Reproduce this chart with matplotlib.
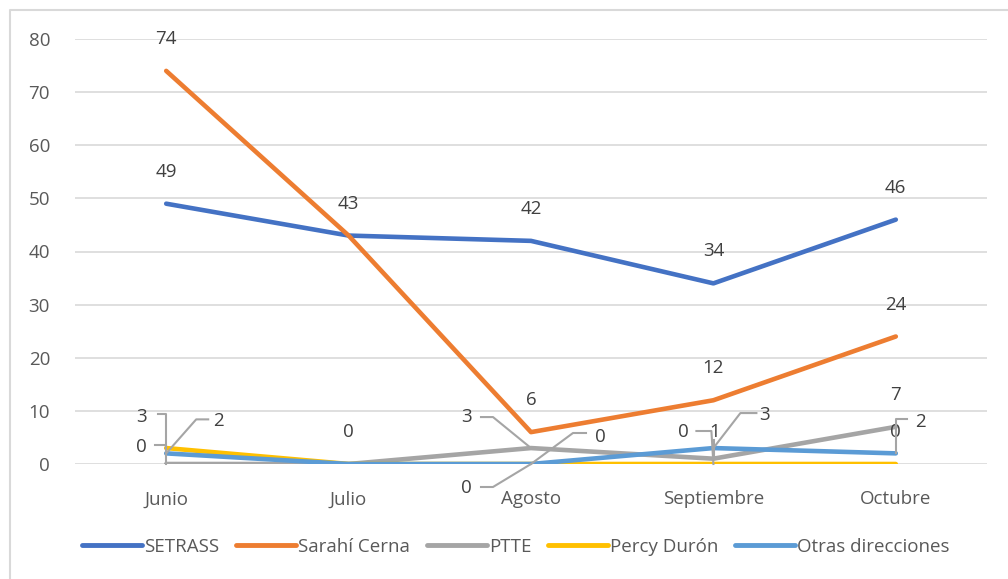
import matplotlib
matplotlib.use('Agg')
import matplotlib.pyplot as plt
from matplotlib.lines import Line2D
from matplotlib.transforms import IdentityTransform

months = ['Junio', 'Julio', 'Agosto', 'Septiembre', 'Octubre']
setrass = [49, 43, 42, 34, 46]
sarahi = [74, 43, 6, 12, 24]
ptte = [0, 0, 3, 1, 7]
percy = [3, 0, 0, 0, 0]
otras = [2, 0, 0, 3, 2]

names = ['SETRASS', 'Sarahí Cerna', 'PTTE', 'Percy Durón', 'Otras direcciones']
colors = ['#4472C4', '#ED7D31', '#A5A5A5', '#FFC000', '#5B9BD5']
series = [setrass, sarahi, ptte, percy, otras]

# label placement (pixel offsets from the point, y up) and leader lines
default_off = (0, 32)
label_off = {
    (3, 0): (-25, 31), (2, 0): (-25, 17), (4, 0): (52, 32),
    (2, 2): (-65, 31), (4, 2): (69, 27), (3, 2): (-65, -24),
    (3, 3): (-30, 32), (2, 3): (1, 27), (4, 3): (51, 33),
    (4, 4): (25, 31),
}
leaders = {
    (3, 0): [(-8, 34), (0, 34), (0, 0)],
    (2, 0): [(-11, 19), (0, 19), (0, 0)],
    (4, 0): [(42, 34), (30, 34), (0, 0)],
    (2, 2): [(-50, 31), (-38, 31), (0, 0)],
    (4, 2): [(55, 31), (42, 31), (0, 0)],
    (3, 2): [(-50, -23), (-38, -23), (0, 0)],
    (3, 3): [(-17, 33), (-2, 33), (0, 0)],
    (2, 3): [(1, 19), (1, 0)],
    (4, 3): [(43, 35), (27, 35), (0, 0)],
    (4, 4): [(11, 34), (0, 34), (0, 0)],
}

plt.rcParams['font.family'] = ['Open Sans', 'DejaVu Sans']
fs = 13.5

fig = plt.figure(figsize=(10.08, 5.79), dpi=100)
ax = fig.add_axes([75 / 1008, 1 - 464 / 579, 912 / 1008, 425 / 579])

x = list(range(len(months)))
for s, name, c in zip(series, names, colors):
    ax.plot(x, s, color=c, lw=3.3, label=name, solid_capstyle='round', zorder=3)

ax.set_xlim(-0.5, len(months) - 0.5)
ax.set_ylim(0, 80)
ax.set_yticks(range(0, 81, 10))
ax.set_xticks(x)
ax.set_xticklabels(months)
ax.grid(axis='y', color='#D9D9D9', lw=1.2)
ax.set_axisbelow(True)
for sp in ax.spines.values():
    sp.set_visible(False)
ax.tick_params(length=0, labelsize=fs, colors='#595959')
ax.tick_params(axis='x', pad=19)
ax.tick_params(axis='y', pad=18)

drawn = set()
for si, s in enumerate(series):
    for i, v in enumerate(s):
        off = label_off.get((si, i), default_off)
        key = (i, v, off)
        if key in drawn:
            continue
        drawn.add(key)
        ax.annotate(str(v), (i, v), xytext=off, textcoords='offset pixels',
                    ha='center', va='center', fontsize=fs, color='#404040',
                    zorder=5)

fig.canvas.draw()
for (si, i), pts in leaders.items():
    px, py = ax.transData.transform((i, series[si][i]))
    xs = [px + dx for dx, dy in pts]
    ys = [py + dy for dx, dy in pts]
    fig.add_artist(Line2D(xs, ys, transform=IdentityTransform(),
                          color='#A5A5A5', lw=1.5, zorder=4))

leg = fig.legend(loc='center', bbox_to_anchor=(516 / 1008, 1 - 547 / 579),
                 ncol=5, frameon=False, fontsize=fs, handlelength=3.2,
                 handletextpad=0.1, columnspacing=0.9)
for t in leg.get_texts():
    t.set_color('#595959')
for h in leg.get_lines():
    h.set_linewidth(3.5)

# outer chart border (top and left visible)
fig.add_artist(Line2D([10 / 1008, 10 / 1008, 1], [0, 1 - 10 / 579, 1 - 10 / 579],
                      transform=fig.transFigure, color='#D9D9D9', lw=1.5))

fig.savefig('out.png', dpi=100)
